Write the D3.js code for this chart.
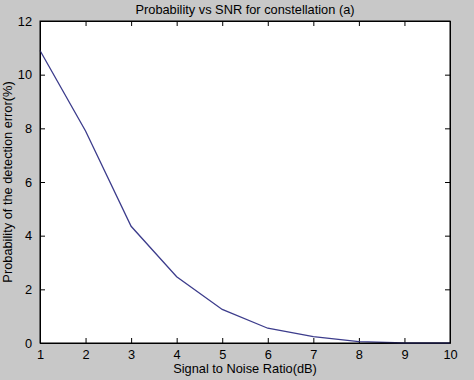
<!DOCTYPE html>
<html>
<head>
<meta charset="utf-8">
<title>Probability vs SNR</title>
<script src="https://cdn.jsdelivr.net/npm/d3@7"></script>
<style>
body { margin: 0; background: #c8c8c8; }
svg { display: block; }
.axis text { font: 12.8px "Liberation Sans", Arial, sans-serif; fill: #000; }
.axis path, .axis line { stroke: #000; }
.lbl { font: 12.8px "Liberation Sans", Arial, sans-serif; }
</style>
</head>
<body>
<script>
// values
var snr = [1, 2, 3, 4, 5, 6, 7, 8, 9, 10];
var perr = [10.9, 7.9, 4.35, 2.47, 1.25, 0.55, 0.24, 0.05, 0, 0];
var xTicks = [1, 2, 3, 4, 5, 6, 7, 8, 9, 10];
var yTicks = [0, 2, 4, 6, 8, 10, 12];

var W = 474, H = 380;
var margin = {top: 21, right: 24, bottom: 37, left: 40};
var width = W - margin.left - margin.right,
    height = H - margin.top - margin.bottom;

var svg = d3.select("body").append("svg")
    .attr("width", W)
    .attr("height", H);

var g = svg.append("g")
    .attr("transform", "translate(" + margin.left + "," + margin.top + ")");

var x = d3.scaleLinear().domain([1, 10]).range([0, width]);
var y = d3.scaleLinear().domain([0, 12]).range([height, 0]);

g.append("rect")
    .attr("width", width)
    .attr("height", height)
    .attr("fill", "#fff");

// ticks point inward on all four sides, like matlab
g.append("g")
    .attr("class", "axis")
    .attr("transform", "translate(0," + height + ")")
    .call(d3.axisBottom(x).tickValues(xTicks).tickSizeInner(-5).tickSizeOuter(0).tickPadding(7));

g.append("g")
    .attr("class", "axis")
    .call(d3.axisLeft(y).tickValues(yTicks).tickSizeInner(-5).tickSizeOuter(0).tickPadding(8));

g.append("g")
    .attr("class", "axis")
    .call(d3.axisTop(x).tickValues(xTicks).tickSizeInner(-5).tickSizeOuter(0).tickFormat(""));

g.append("g")
    .attr("class", "axis")
    .attr("transform", "translate(" + width + ",0)")
    .call(d3.axisRight(y).tickValues(yTicks).tickSizeInner(-5).tickSizeOuter(0).tickFormat(""));

var line = d3.line()
    .x(function(d, i) { return x(snr[i]); })
    .y(function(d) { return y(d); });

g.append("path")
    .datum(perr)
    .attr("fill", "none")
    .attr("stroke", "#3c3c8c")
    .attr("stroke-width", 1.3)
    .attr("d", line);

g.append("rect")
    .attr("width", width)
    .attr("height", height)
    .attr("fill", "none")
    .attr("stroke", "#000");

svg.append("text")
    .attr("class", "lbl")
    .attr("x", margin.left + width / 2)
    .attr("y", 14)
    .attr("text-anchor", "middle")
    .text("Probability vs SNR for constellation (a)");

svg.append("text")
    .attr("class", "lbl")
    .attr("x", margin.left + width / 2)
    .attr("y", 373)
    .attr("text-anchor", "middle")
    .text("Signal to Noise Ratio(dB)");

svg.append("text")
    .attr("class", "lbl")
    .attr("transform", "translate(12," + (margin.top + height / 2) + ") rotate(-90)")
    .attr("text-anchor", "middle")
    .text("Probability of the detection error(%)");
</script>
</body>
</html>
